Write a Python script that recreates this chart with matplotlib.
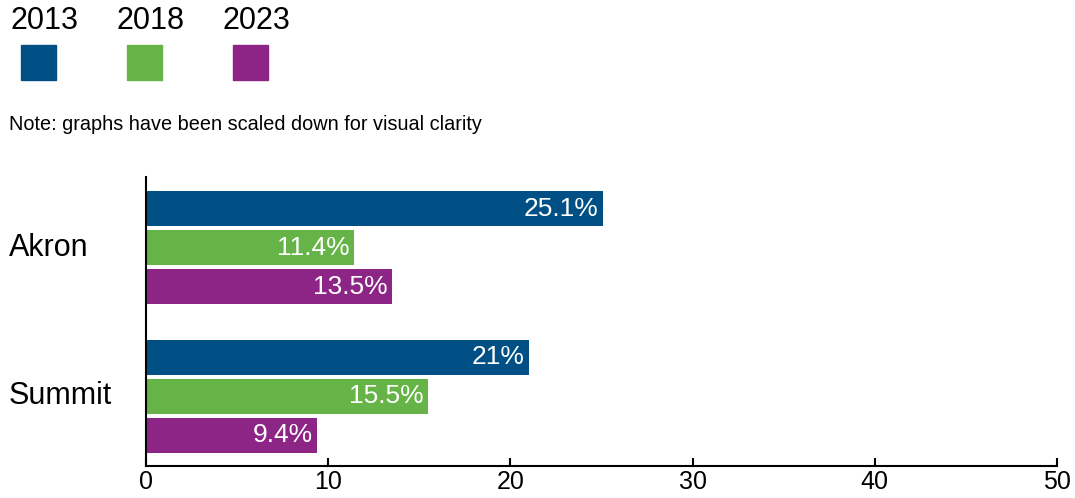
import matplotlib.pyplot as plt
from matplotlib.patches import Rectangle
import numpy as np

places = ["Akron", "Summit"]
years = ["2013", "2018", "2023"]
values = {
    "2013": [25.1, 21.0],
    "2018": [11.4, 15.5],
    "2023": [13.5, 9.4],
}
labels = {
    "2013": ["25.1%", "21%"],
    "2018": ["11.4%", "15.5%"],
    "2023": ["13.5%", "9.4%"],
}
colors = ["#005086", "#66b447", "#8c2585"]
note = "Note: graphs have been scaled down for visual clarity"

plt.rcParams['font.family'] = ['Liberation Sans', 'DejaVu Sans']

fig = plt.figure(figsize=(10.75, 4.98), dpi=100)
ax = fig.add_axes([146 / 1075, 1 - 466 / 498, (1057 - 146) / 1075, (466 - 177) / 498])

pitch = 39 / 148
h = 35 / 148
y = np.arange(len(places))
for i, yr in enumerate(years):
    pos = y + (i - 1) * pitch
    bars = ax.barh(pos, values[yr], height=h, color=colors[i], edgecolor="none")
    for b, lab in zip(bars, labels[yr]):
        ax.text(b.get_width() - 0.25, b.get_y() + b.get_height() / 2, lab,
                ha="right", va="center", color="white", fontsize=19)

ax.set_xlim(0, 50)
ax.set_ylim((466 - 248) / 148, (177 - 248) / 148)
ax.set_yticks([])
for s in ["top", "right"]:
    ax.spines[s].set_visible(False)
ax.spines["left"].set_linewidth(1.5)
ax.spines["bottom"].set_linewidth(1.5)
ax.set_xticks([0, 10, 20, 30, 40, 50])
ax.tick_params(axis="x", direction="in", length=6, width=1.5, pad=3, labelsize=18)

# category labels
for yy, name in zip(y, places):
    ax.text(-0.151, yy, name, transform=ax.get_yaxis_transform(), ha="left",
            va="center", fontsize=22)

# legend
lx = [21, 127, 233]
for i, yr in enumerate(years):
    fig.text((lx[i] - 11) / 1075, 1 - 21 / 498, yr, ha="left", va="center", fontsize=22)
    fig.patches.append(Rectangle((lx[i] / 1075, 1 - 80 / 498), 35 / 1075, 35 / 498,
                                 transform=fig.transFigure, color=colors[i]))

fig.text(9 / 1075, 1 - 124 / 498, note, ha="left", va="center", fontsize=14.3)

fig.savefig("out.png", dpi=100)
